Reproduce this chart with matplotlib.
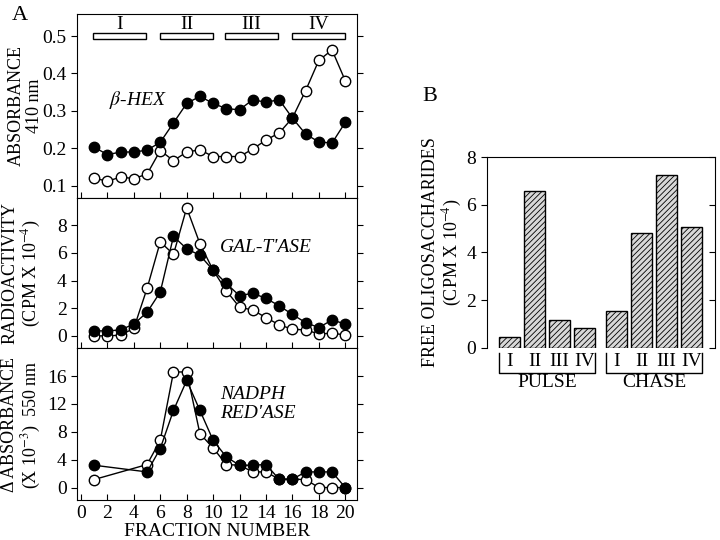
import numpy as np
import matplotlib
matplotlib.use("Agg")
from matplotlib import pyplot as plt
from matplotlib.patches import Rectangle

plt.rcParams['font.family'] = ['Liberation Serif', 'DejaVu Serif']
plt.rcParams['font.size'] = 14
plt.rcParams['axes.labelsize'] = 13
plt.rcParams['mathtext.fontset'] = 'stix'
plt.rcParams['hatch.linewidth'] = 0.6

# fraction numbers
frac = list(range(1, 21))
frac_red = [1] + list(range(5, 21))

# beta-hexosaminidase (absorbance 410 nm)
hex_filled = [0.203, 0.183, 0.190, 0.190, 0.195, 0.216, 0.268, 0.320, 0.339, 0.320,
              0.306, 0.303, 0.330, 0.323, 0.330, 0.281, 0.238, 0.217, 0.214, 0.269]
hex_open = [0.120, 0.112, 0.123, 0.119, 0.131, 0.194, 0.167, 0.190, 0.196, 0.178,
            0.178, 0.178, 0.198, 0.222, 0.241, 0.281, 0.354, 0.435, 0.463, 0.381]

# galactosyltransferase (CPM x 10^-4)
gal_filled = [0.36, 0.36, 0.43, 0.86, 1.70, 3.17, 7.20, 6.30, 5.83, 4.75,
              3.79, 2.90, 3.09, 2.71, 2.18, 1.55, 0.96, 0.60, 1.15, 0.86]
gal_open = [0.0, 0.0, 0.05, 0.55, 3.43, 6.80, 5.90, 9.26, 6.67, 4.75,
            3.26, 2.07, 1.87, 1.32, 0.80, 0.48, 0.43, 0.14, 0.19, 0.07]

# NADPH reductase (delta absorbance 550 nm, x 10^-3)
red_filled = [3.2, 2.24, 5.6, 11.08, 15.38, 11.08, 6.78, 4.39, 3.2, 3.2,
              3.3, 1.19, 1.19, 2.24, 2.24, 2.24, 0.0]
red_open = [1.15, 3.3, 6.78, 16.6, 16.6, 7.74, 5.68, 3.3, 3.2, 2.24,
            2.24, 1.19, 1.19, 1.15, 0.0, 0.0, 0.0]

# pooled regions
pools = ['I', 'II', 'III', 'IV']
pool_spans = [(0.9, 4.9), (6.0, 10.0), (10.9, 14.9), (16.0, 20.0)]

# free oligosaccharides (CPM x 10^-4)
pulse = [0.45, 6.57, 1.16, 0.83]
chase = [1.54, 4.80, 7.27, 5.08]

fig = plt.figure(figsize=(7.2, 5.4), dpi=100)
ax1 = fig.add_axes([0.107, 0.634, 0.389, 0.340])
ax2 = fig.add_axes([0.107, 0.355, 0.389, 0.279])
ax3 = fig.add_axes([0.107, 0.074, 0.389, 0.281])
axb = fig.add_axes([0.676, 0.356, 0.317, 0.353])

mk = dict(marker='o', ms=7.5, color='black', lw=1.0, mew=1.0)

def style(ax):
    ax.set_xlim(-0.3, 20.9)
    ax.set_xticks(range(0, 21, 2))
    ax.tick_params(axis='x', direction='in', length=4, top=False)
    ax.tick_params(axis='y', direction='out', length=4, right=True)
    ax.tick_params(axis='y', which='both', labelright=False)

for ax in (ax1, ax2, ax3):
    style(ax)

# top panel
ax1.plot(frac, hex_open, mfc='white', **mk)
ax1.plot(frac, hex_filled, mfc='black', **mk)
ax1.set_ylim(0.068, 0.559)
ax1.set_yticks([0.1, 0.2, 0.3, 0.4, 0.5])
ax1.set_xticklabels([])
for name, (a, b) in zip(pools, pool_spans):
    ax1.add_patch(Rectangle((a, 0.492), b - a, 0.016, fc='white', ec='black', lw=1.0))
    ax1.text((a + b) / 2, 0.532, name, ha='center', va='center')
ax1.text(4.3, 0.329, r'$\beta$-HEX', style='italic', ha='center', va='center')
ax1.set_ylabel('ABSORBANCE\n410 nm', linespacing=1.1)
ax1.yaxis.set_label_coords(-0.122, 0.5)

# middle panel
ax2.plot(frac, gal_open, mfc='white', **mk)
ax2.plot(frac, gal_filled, mfc='black', **mk)
ax2.set_ylim(-0.9, 10)
ax2.set_yticks([0, 2, 4, 6, 8])
ax2.set_xticklabels([])
ax2.text(10.5, 6.42, "GAL-T'ASE", style='italic', ha='left', va='center')
ax2.set_ylabel('RADIOACTIVITY\n(CPM X 10$^{-4}$)', linespacing=1.1)
ax2.yaxis.set_label_coords(-0.122, 0.5)

# bottom panel
ax3.plot(frac_red, red_open, mfc='white', **mk)
ax3.plot(frac_red, red_filled, mfc='black', **mk)
ax3.set_ylim(-1.8, 20)
ax3.set_yticks([0, 4, 8, 12, 16])
ax3.text(10.5, 13.4, 'NADPH', style='italic', ha='left', va='center')
ax3.text(10.5, 10.7, "RED'ASE", style='italic', ha='left', va='center')
ax3.set_ylabel('\u0394 ABSORBANCE\n(X 10$^{-3}$)  550 nm', linespacing=1.1)
ax3.yaxis.set_label_coords(-0.122, 0.5)
ax3.set_xlabel('FRACTION NUMBER', labelpad=1, fontsize=14)

# bar chart
w = 0.85
pos_p = np.arange(4)
pos_c = np.arange(4) + 4.28
axb.bar(pos_p, pulse, width=w, color='#d8d8d8', edgecolor='black', lw=1.0, hatch='//////')
axb.bar(pos_c, chase, width=w, color='#d8d8d8', edgecolor='black', lw=1.0, hatch='//////')
axb.set_xlim(-0.91, 8.22)
axb.set_ylim(0, 8)
axb.set_yticks([0, 2, 4, 6, 8])
axb.set_xticks([])
axb.spines['bottom'].set_visible(False)
axb.tick_params(axis='y', direction='out', length=4)
axb.tick_params(axis='y', which='both', right=True)
for t in axb.yaxis.get_majorticklines()[1::2]:
    t.set_marker(matplotlib.lines.TICKLEFT)
axb.set_ylabel('FREE OLIGOSACCHARIDES\n(CPM X 10$^{-4}$)', linespacing=1.1)
axb.yaxis.set_label_coords(-0.1, 0.5)

tr = axb.get_xaxis_transform()
for pos, grp in ((pos_p, 'PULSE'), (pos_c, 'CHASE')):
    for p, name in zip(pos, pools):
        axb.text(p, -0.07, name, ha='center', va='center', transform=tr)
    x0 = pos[0] - w / 2
    x1 = pos[-1] + w / 2
    axb.plot([x0, x0, x1, x1], [-0.028, -0.133, -0.133, -0.028], color='black',
             lw=1.0, transform=tr, clip_on=False)
    axb.text((x0 + x1) / 2, -0.18, grp, ha='center', va='center', transform=tr)

fig.text(0.028, 0.972, 'A', fontsize=16, ha='center', va='center')
fig.text(0.597, 0.821, 'B', fontsize=16, ha='center', va='center')

fig.savefig('out.png', dpi=100)
